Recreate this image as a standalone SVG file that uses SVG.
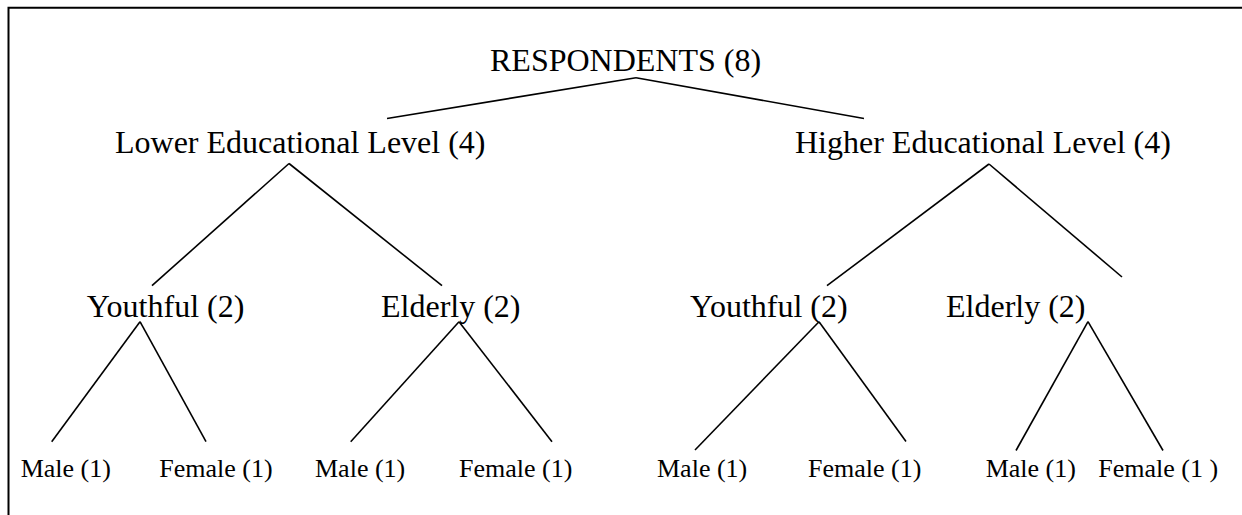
<svg xmlns="http://www.w3.org/2000/svg" width="1242" height="515" viewBox="0 0 1242 515">
<style>
text { font-family: "Liberation Serif", "Times New Roman", serif; fill: #000; }
.l1 { font-size: 32px; }
.l3 { font-size: 26px; }
.edge { stroke: #000; stroke-width: 1.6; fill: none; }
.frame { stroke: #000; stroke-width: 2; fill: none; }
</style>
<rect x="0" y="0" width="1242" height="515" fill="#fff"/>
<g id="frame">
<path class="frame" d="M8.5,515 V7.8 H1242"/>
</g>
<g id="connectors">
<line class="edge" x1="636" y1="77.7" x2="387" y2="118.5"/>
<line class="edge" x1="636" y1="77.7" x2="864" y2="118.5"/>
<line class="edge" x1="289" y1="163.5" x2="152" y2="285.7"/>
<line class="edge" x1="289" y1="163.5" x2="442" y2="285.7"/>
<line class="edge" x1="989" y1="164" x2="827" y2="285.7"/>
<line class="edge" x1="989" y1="164" x2="1122" y2="277"/>
<line class="edge" x1="140" y1="321.7" x2="51.7" y2="441.7"/>
<line class="edge" x1="140" y1="321.7" x2="206" y2="441.7"/>
<line class="edge" x1="459" y1="321.7" x2="350.7" y2="441.7"/>
<line class="edge" x1="459" y1="321.7" x2="552" y2="441.7"/>
<line class="edge" x1="819" y1="321.7" x2="695" y2="450"/>
<line class="edge" x1="819" y1="321.7" x2="906" y2="441.5"/>
<line class="edge" x1="1088" y1="321.7" x2="1016" y2="450.5"/>
<line class="edge" x1="1088" y1="321.7" x2="1163" y2="450.5"/>
</g>
<g id="root"><text class="l1" x="490" y="70.7">RESPONDENTS (8)</text></g>
<g id="lower"><text class="l1" x="115" y="153.3">Lower Educational Level (4)</text></g>
<g id="higher"><text class="l1" x="795" y="153.3">Higher Educational Level (4)</text></g>
<g id="lower-youthful"><text class="l1" x="86.7" y="317">Youthful (2)</text></g>
<g id="lower-elderly"><text class="l1" x="381" y="317">Elderly (2)</text></g>
<g id="higher-youthful"><text class="l1" x="690" y="317">Youthful (2)</text></g>
<g id="higher-elderly"><text class="l1" x="946" y="317">Elderly (2)</text></g>
<g id="ly-male"><text class="l3" x="20.7" y="476.5">Male (1)</text></g>
<g id="ly-female"><text class="l3" x="159.3" y="476.5">Female (1)</text></g>
<g id="le-male"><text class="l3" x="315" y="476.5">Male (1)</text></g>
<g id="le-female"><text class="l3" x="459" y="476.5">Female (1)</text></g>
<g id="hy-male"><text class="l3" x="657" y="476.5">Male (1)</text></g>
<g id="hy-female"><text class="l3" x="808" y="476.5">Female (1)</text></g>
<g id="he-male"><text class="l3" x="985.7" y="476.5">Male (1)</text></g>
<g id="he-female"><text class="l3" x="1098.3" y="476.5">Female (1 )</text></g>
</svg>
